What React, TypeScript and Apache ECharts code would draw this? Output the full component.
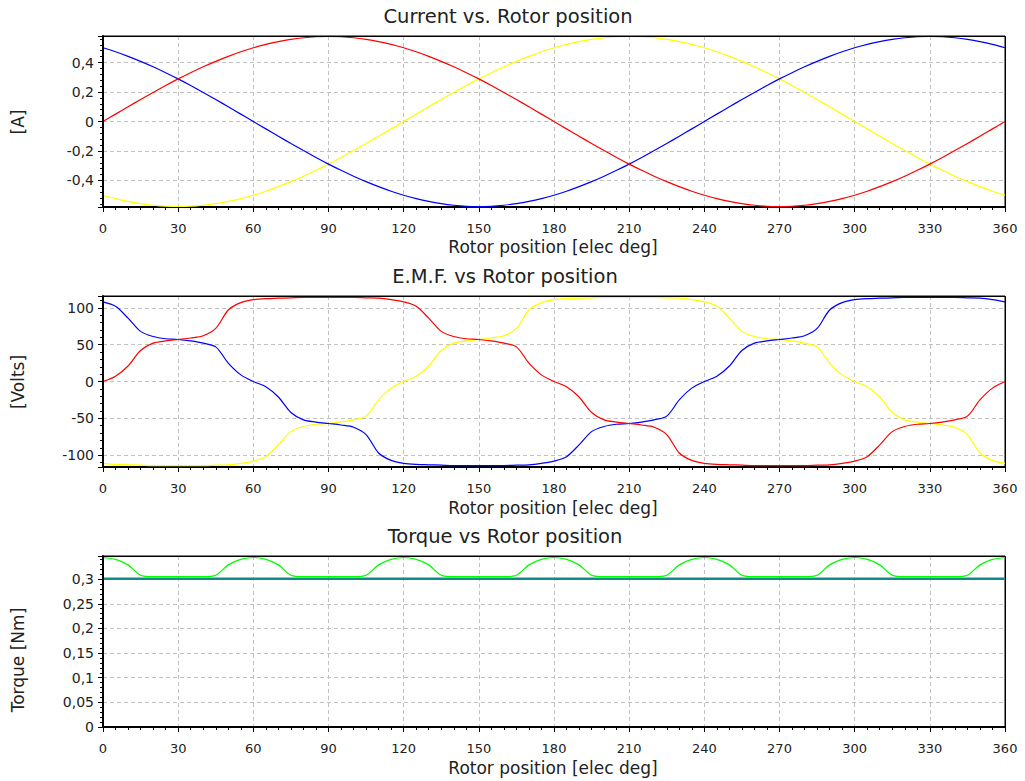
import React, { useEffect, useRef } from "react";
import * as echarts from "echarts";

// Rotor position [elec deg]
const angles = [
  0, 5, 10, 15, 20, 25, 30, 35, 40, 45, 50, 55, 60, 65, 70, 75, 80, 85, 90,
  95, 100, 105, 110, 115, 120, 125, 130, 135, 140, 145, 150, 155, 160, 165, 170, 175, 180,
  185, 190, 195, 200, 205, 210, 215, 220, 225, 230, 235, 240, 245, 250, 255, 260, 265, 270,
  275, 280, 285, 290, 295, 300, 305, 310, 315, 320, 325, 330, 335, 340, 345, 350, 355, 360,
];

// Current [A]
const currentRed = [
  0, 0.05, 0.1, 0.149, 0.197, 0.244, 0.289, 0.331, 0.371, 0.408, 0.442, 0.473, 0.5, 0.523, 0.542, 0.557, 0.568, 0.575, 0.577,
  0.575, 0.568, 0.557, 0.542, 0.523, 0.5, 0.473, 0.442, 0.408, 0.371, 0.331, 0.289, 0.244, 0.197, 0.149, 0.1, 0.05, 0,
  -0.05, -0.1, -0.149, -0.197, -0.244, -0.289, -0.331, -0.371, -0.408, -0.442, -0.473, -0.5, -0.523, -0.542, -0.557, -0.568, -0.575, -0.577,
  -0.575, -0.568, -0.557, -0.542, -0.523, -0.5, -0.473, -0.442, -0.408, -0.371, -0.331, -0.289, -0.244, -0.197, -0.149, -0.1, -0.05, 0,
];
const currentBlue = [
  0.5, 0.473, 0.442, 0.408, 0.371, 0.331, 0.289, 0.244, 0.197, 0.149, 0.1, 0.05,
  0, -0.05, -0.1, -0.149, -0.197, -0.244, -0.289, -0.331, -0.371, -0.408, -0.442, -0.473, -0.5, -0.523, -0.542, -0.557, -0.568, -0.575, -0.577,
  -0.575, -0.568, -0.557, -0.542, -0.523, -0.5, -0.473, -0.442, -0.408, -0.371, -0.331, -0.289, -0.244, -0.197, -0.149, -0.1, -0.05,
  0, 0.05, 0.1, 0.149, 0.197, 0.244, 0.289, 0.331, 0.371, 0.408, 0.442, 0.473, 0.5, 0.523, 0.542, 0.557, 0.568, 0.575, 0.577,
  0.575, 0.568, 0.557, 0.542, 0.523, 0.5,
];
const currentYellow = [
  -0.5, -0.523, -0.542, -0.557, -0.568, -0.575, -0.577, -0.575, -0.568, -0.557, -0.542, -0.523,
  -0.5, -0.473, -0.442, -0.408, -0.371, -0.331, -0.289, -0.244, -0.197, -0.149, -0.1, -0.05,
  0, 0.05, 0.1, 0.149, 0.197, 0.244, 0.289, 0.331, 0.371, 0.408, 0.442, 0.473, 0.5, 0.523, 0.542, 0.557, 0.568, 0.575, 0.577,
  0.575, 0.568, 0.557, 0.542, 0.523, 0.5, 0.473, 0.442, 0.408, 0.371, 0.331, 0.289, 0.244, 0.197, 0.149, 0.1, 0.05, 0,
  -0.05, -0.1, -0.149, -0.197, -0.244, -0.289, -0.331, -0.371, -0.408, -0.442, -0.473, -0.5,
];

// E.M.F. [Volts]
const emfRed = [
  0, 7, 21, 42, 52, 55, 57, 59, 62, 72, 97, 107, 111, 112.5, 113, 113.5, 114, 114, 114,
  114, 114, 113.5, 113, 111, 108, 102, 86, 68, 61, 58, 57, 55, 52, 47, 25, 9,
  0, -7, -21, -42, -52, -55, -57, -59, -62, -72, -97, -107, -111, -112.5, -113, -113.5, -114, -114, -114,
  -114, -114, -113.5, -113, -111, -108, -102, -86, -68, -61, -58, -57, -55, -52, -47, -25, -9, 0,
];
const emfBlue = [
  108, 102, 86, 68, 61, 58, 57, 55, 52, 47, 25, 9,
  0, -7, -21, -42, -52, -55, -57, -59, -62, -72, -97, -107, -111, -112.5, -113, -113.5, -114, -114, -114,
  -114, -114, -113.5, -113, -111, -108, -102, -86, -68, -61, -58, -57, -55, -52, -47, -25, -9,
  0, 7, 21, 42, 52, 55, 57, 59, 62, 72, 97, 107, 111, 112.5, 113, 113.5, 114, 114, 114,
  114, 114, 113.5, 113, 111, 108,
];
const emfYellow = [
  -111, -112.5, -113, -113.5, -114, -114, -114, -114, -114, -113.5, -113, -111,
  -108, -102, -86, -68, -61, -58, -57, -55, -52, -47, -25, -9,
  0, 7, 21, 42, 52, 55, 57, 59, 62, 72, 97, 107, 111, 112.5, 113, 113.5, 114, 114, 114,
  114, 114, 113.5, 113, 111, 108, 102, 86, 68, 61, 58, 57, 55, 52, 47, 25, 9,
  0, -7, -21, -42, -52, -55, -57, -59, -62, -72, -97, -107, -111,
];

// Torque [Nm]
const torque = [
  0.344, 0.34, 0.329, 0.308, 0.305, 0.305, 0.305, 0.305, 0.305, 0.308, 0.329, 0.34,
  0.344, 0.34, 0.329, 0.308, 0.305, 0.305, 0.305, 0.305, 0.305, 0.308, 0.329, 0.34,
  0.344, 0.34, 0.329, 0.308, 0.305, 0.305, 0.305, 0.305, 0.305, 0.308, 0.329, 0.34,
  0.344, 0.34, 0.329, 0.308, 0.305, 0.305, 0.305, 0.305, 0.305, 0.308, 0.329, 0.34,
  0.344, 0.34, 0.329, 0.308, 0.305, 0.305, 0.305, 0.305, 0.305, 0.308, 0.329, 0.34,
  0.344, 0.34, 0.329, 0.308, 0.305, 0.305, 0.305, 0.305, 0.305, 0.308, 0.329, 0.34,
  0.344,
];
const torqueAvgX = [0, 360];
const torqueAvg = [0.301, 0.301];

const titles = ["Current vs. Rotor position", "E.M.F. vs Rotor position", "Torque vs Rotor position"];
const yNames = ["[A]", "[Volts]", "Torque [Nm]"];
const xName = "Rotor position [elec deg]";

const FONT = '"DejaVu Sans", Verdana, sans-serif';

const pairs = (xs: number[], ys: number[]) => xs.map((x, i) => [x, ys[i]]);
const comma = (v: number) => String(v).replace(".", ",");

export default function App() {
  const ref = useRef<HTMLDivElement>(null);

  useEffect(() => {
    if (!ref.current) return;
    const chart = echarts.init(ref.current, undefined, { renderer: "svg" });

    const gridLeft = 103;
    const gridWidth = 902;
    const gridHeight = 171;
    const gridTops = [36, 296, 556];
    const grids = gridTops.map((top) => ({
      left: gridLeft,
      width: gridWidth,
      top,
      height: gridHeight,
      show: true,
      borderColor: "#000",
      borderWidth: 1,
      backgroundColor: "#fff",
    }));

    const splitLine = {
      show: true,
      showMinLine: false,
      showMaxLine: false,
      lineStyle: { color: "#c2c2c2", type: [4, 3], width: 1 },
    };

    const xAxes = gridTops.map((_, i) => ({
      type: "value",
      gridIndex: i,
      min: 0,
      max: 360,
      interval: 30,
      axisLine: { show: true, onZero: false, lineStyle: { color: "#000", width: 2 } },
      axisTick: { show: true, length: 5, lineStyle: { color: "#000" } },
      minorTick: { show: true, splitNumber: 6, length: 3, lineStyle: { color: "#000" } },
      axisLabel: { color: "#222", fontSize: 13, fontFamily: FONT, margin: 15 },
      splitLine,
    }));

    const yBase = {
      type: "value",
      axisLine: { show: true, onZero: false, lineStyle: { color: "#000", width: 2 } },
      axisTick: { show: true, length: 5, lineStyle: { color: "#000" } },
      minorTick: { show: true, splitNumber: 5, length: 3, lineStyle: { color: "#000" } },
      splitLine,
    };
    const yLabel = { color: "#222", fontSize: 14, fontFamily: FONT, margin: 9 };
    const yAxes = [
      {
        ...yBase,
        gridIndex: 0,
        min: -0.58,
        max: 0.58,
        splitNumber: 5,
        axisLabel: {
          ...yLabel,
          showMinLabel: false, showMaxLabel: false,
          formatter: (v: number) => (Math.abs(v) > 0.5 ? "" : comma(v)),
        },
      },
      {
        ...yBase,
        gridIndex: 1,
        min: -116,
        max: 116,
        splitNumber: 5,
        axisLabel: {
          ...yLabel,
          showMinLabel: false, showMaxLabel: false,
          formatter: (v: number) => (Math.abs(v) > 110 ? "" : comma(v)),
        },
      },
      {
        ...yBase,
        gridIndex: 2,
        min: 0,
        max: 0.347,
        interval: 0.05,
        axisLabel: {
          ...yLabel,
          showMaxLabel: false,
          formatter: (v: number) => (v > 0.32 ? "" : comma(Math.round(v * 100) / 100)),
        },
      },
    ];

    const line = (idx: number, data: number[][], color: string, width = 1.2, smooth: number | boolean = false) => ({
      type: "line",
      xAxisIndex: idx,
      yAxisIndex: idx,
      data,
      showSymbol: false,
      symbol: "none",
      smooth,
      lineStyle: { color, width },
      itemStyle: { color },
      silent: true,
    });

    const series = [
      line(0, pairs(angles, currentYellow), "#ffff00", 1.2, 0.3),
      line(0, pairs(angles, currentBlue), "#0000ff", 1.2, 0.3),
      line(0, pairs(angles, currentRed), "#ff0000", 1.2, 0.3),
      line(1, pairs(angles, emfYellow), "#ffff00", 1.2, 0.3),
      line(1, pairs(angles, emfBlue), "#0000ff", 1.2, 0.3),
      line(1, pairs(angles, emfRed), "#ff0000", 1.2, 0.3),
      line(2, pairs(torqueAvgX, torqueAvg), "#138a8a", 2.5),
      line(2, pairs(angles, torque), "#00ff00", 1.2, 0.3),
    ];

    const titleY = [16, 276, 536];
    const titleX = [508, 505, 505];
    const xNameY = [247, 508, 768];
    const yNameY = [122, 382, 660];

    const graphic: any[] = [];
    gridTops.forEach((top) => {
      graphic.push({
        type: "rect",
        silent: true,
        z: 100,
        shape: { x: gridLeft + 0.5, y: top + 0.5, width: gridWidth, height: gridHeight },
        style: { fill: "none", stroke: "#000", lineWidth: 1 },
      });
    });
    titles.forEach((t, i) => {
      graphic.push({
        type: "text",
        x: titleX[i],
        y: titleY[i],
        silent: true,
        style: { text: t, font: `19.5px ${FONT}`, fill: "#222", align: "center", verticalAlign: "middle" },
      });
      graphic.push({
        type: "text",
        x: 553,
        y: xNameY[i],
        silent: true,
        style: { text: xName, font: `17px ${FONT}`, fill: "#222", align: "center", verticalAlign: "middle" },
      });
      graphic.push({
        type: "text",
        x: 18,
        y: yNameY[i],
        rotation: Math.PI / 2,
        silent: true,
        style: { text: yNames[i], font: `17px ${FONT}`, fill: "#222", align: "center", verticalAlign: "middle" },
      });
    });

    chart.setOption({
      animation: false,
      backgroundColor: "#fff",
      grid: grids,
      xAxis: xAxes,
      yAxis: yAxes,
      series,
      graphic,
    });

    return () => chart.dispose();
  }, []);

  return <div ref={ref} style={{ width: 1025, height: 781, position: "absolute", left: 0, top: 0 }} />;
}
